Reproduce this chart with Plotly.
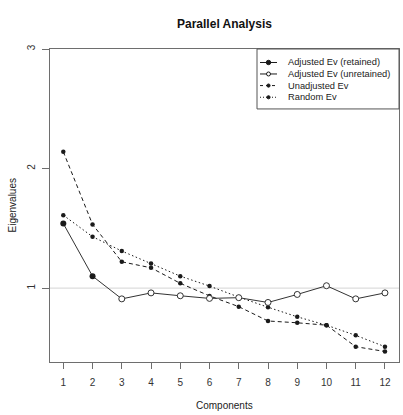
import plotly.graph_objects as go

components = list(range(1, 13))
adjusted_ev = [1.54, 1.10, 0.91, 0.96, 0.936, 0.914, 0.92, 0.88, 0.947, 1.02, 0.91, 0.96]
unadjusted_ev = [2.14, 1.533, 1.22, 1.17, 1.04, 0.935, 0.845, 0.725, 0.71, 0.69, 0.51, 0.47]
random_ev = [1.61, 1.43, 1.31, 1.205, 1.10, 1.017, 0.925, 0.84, 0.76, 0.69, 0.605, 0.51]
n_retained = 2
legend_names = ["Adjusted Ev (retained)", "Adjusted Ev (unretained)", "Unadjusted Ev", "Random Ev"]

LINE = "#1a1a1a"
AXIS = "#6e6e6e"
FONT = "Liberation Sans, Arial, sans-serif"

fig = go.Figure()

# reference line at 1
fig.add_shape(type="line", xref="paper", x0=0, x1=1, yref="y", y0=1, y1=1,
              line=dict(color="#d4d4d4", width=1), layer="below")

fig.add_trace(go.Scatter(x=components, y=unadjusted_ev, mode="lines+markers",
                         line=dict(color=LINE, width=1, dash="4px,3px"),
                         marker=dict(size=4.5, color=LINE), showlegend=False))
fig.add_trace(go.Scatter(x=components, y=random_ev, mode="lines+markers",
                         line=dict(color=LINE, width=1, dash="1.5px,2.5px"),
                         marker=dict(size=4.5, color=LINE), showlegend=False))
fig.add_trace(go.Scatter(x=components, y=adjusted_ev, mode="lines",
                         line=dict(color="#333333", width=1), showlegend=False))
fig.add_trace(go.Scatter(x=components[:n_retained], y=adjusted_ev[:n_retained], mode="markers",
                         marker=dict(size=6, color=LINE), showlegend=False))
fig.add_trace(go.Scatter(x=components[n_retained:], y=adjusted_ev[n_retained:], mode="markers",
                         marker=dict(size=6, color="white", line=dict(color="#333333", width=1)),
                         showlegend=False))

# manual legend (R style)
W, H = 349.0, 313.3
def px(x):
    return (x - 50) / W
def py(y):
    return (362.3 - y) / H

shapes = list(fig.layout.shapes)
shapes.append(dict(type="rect", xref="x domain", yref="y domain", x0=px(257), x1=1.0,
                   y0=py(109), y1=1.0, line=dict(color="#555555", width=1, dash="solid"),
                   fillcolor="rgba(255,255,255,0)", layer="above"))
rows = [62.5, 74.0, 85.6, 97.3]
dashes = ["solid", "solid", "3px,3px", "1px,2px"]
fills = [LINE, "white", LINE, LINE]
msize = [2.2, 2.0, 1.6, 1.6]
annotations = []
for name, ry, d, f, r in zip(legend_names, rows, dashes, fills, msize):
    shapes.append(dict(type="line", xref="x domain", yref="y domain", x0=px(260), x1=px(277),
                       y0=py(ry), y1=py(ry), line=dict(color=LINE, width=1, dash=d), layer="above"))
    shapes.append(dict(type="circle", xref="x domain", yref="y domain",
                       x0=px(268.5 - r), x1=px(268.5 + r), y0=py(ry + r), y1=py(ry - r),
                       fillcolor=f, line=dict(color=LINE, width=1), layer="above"))
    annotations.append(dict(xref="paper", yref="paper", x=px(286), y=py(ry), text=name,
                            showarrow=False, xanchor="left", yanchor="middle",
                            font=dict(size=9.3, color="#222222", family=FONT)))

annotations.append(dict(xref="paper", yref="paper", x=0.5, y=py(406), text="Components",
                        showarrow=False, xanchor="center", yanchor="middle",
                        font=dict(size=10, color="#222222", family=FONT)))
annotations.append(dict(xref="paper", yref="paper", x=px(12), y=0.5, text="Eigenvalues",
                        showarrow=False, xanchor="center", yanchor="middle", textangle=-90,
                        font=dict(size=10, color="#222222", family=FONT)))

fig.update_layout(
    width=403, height=415,
    margin=dict(l=50, r=4, t=49, b=53),
    paper_bgcolor="white", plot_bgcolor="white",
    title=dict(text="<b>Parallel Analysis</b>", x=0.5, xref="paper", y=1 - 24 / 415,
               yref="container", xanchor="center", yanchor="middle",
               font=dict(size=12, color="#111111", family=FONT)),
    shapes=shapes, annotations=annotations,
    font=dict(family=FONT, size=10, color="#333333"),
)
fig.update_xaxes(range=[0.545, 12.48], tickvals=components, ticktext=[str(c) for c in components],
                 showgrid=False, zeroline=False, showline=True, linecolor=AXIS, linewidth=1,
                 mirror=True, ticks="outside", ticklen=6, tickcolor=AXIS,
                 tickfont=dict(size=10, color="#333333"), ticklabelstandoff=5)
fig.update_yaxes(range=[0.382, 3.0], tickvals=[1, 2, 3], ticktext=["1", "2", "3"],
                 showgrid=False, zeroline=False, showline=True, linecolor=AXIS, linewidth=1,
                 mirror=True, ticks="outside", ticklen=7, tickcolor=AXIS, tickangle=-90,
                 tickfont=dict(size=10, color="#333333"), ticklabelstandoff=3)

fig.write_html("out.html")
